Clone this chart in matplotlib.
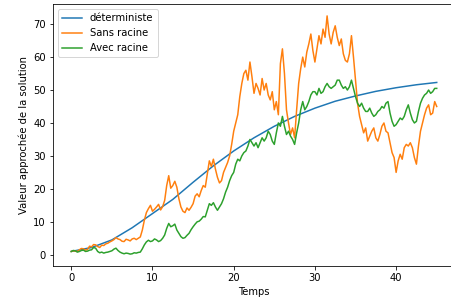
import numpy as np
import matplotlib
matplotlib.use("Agg")
from matplotlib import pyplot as plt

# deterministic curve, read every 2.5 time units
t_det = np.arange(0, 45.01, 2.5)
y_det = [1.0, 2.2, 4.5, 8.2, 12.5, 16.8, 22.0, 27.0, 31.5, 35.5,
         39.0, 42.0, 44.5, 46.6, 48.2, 49.6, 50.7, 51.6, 52.3]

# stochastic paths, read every 0.25 time units (one row = 2.5 units)
t_sto = np.arange(0, 45.01, 0.25)
y_sans = [1.0, 1.2, 1.1, 1.0, 1.5, 1.9, 1.8, 1.4, 1.6, 2.6,
          2.4, 3.1, 3.0, 2.5, 2.2, 2.9, 2.8, 3.3, 3.5, 3.9,
          4.2, 4.6, 5.2, 4.8, 4.6, 4.1, 4.0, 4.7, 4.5, 4.2,
          4.8, 5.0, 4.6, 5.0, 5.4, 7.5, 10.5, 12.8, 14.0, 15.0,
          13.2, 13.8, 14.5, 15.3, 13.6, 14.6, 16.5, 21.0, 24.0, 20.2,
          21.0, 22.3, 20.5, 17.0, 14.5, 13.2, 12.8, 14.2, 13.5, 14.4,
          15.5, 17.8, 18.5, 17.6, 19.5, 21.0, 20.5, 24.5, 28.5, 26.8,
          29.0, 26.0, 23.5, 21.8, 22.5, 25.0, 26.5, 28.0, 30.0, 33.5,
          37.5, 40.0, 42.5, 48.0, 52.0, 55.0, 56.0, 53.0, 58.5, 54.0,
          49.0, 52.0, 50.5, 48.5, 53.5, 50.0, 52.0, 48.5, 47.0, 49.5,
          44.0, 46.5, 42.5, 58.0, 62.5, 55.0, 44.0, 40.0, 36.5, 38.5,
          35.5, 44.0, 52.0, 56.5, 60.0, 57.0, 61.5, 64.0, 67.0, 62.0,
          58.5, 62.5, 66.5, 64.0, 68.5, 66.0, 72.5, 67.0, 64.0, 67.5,
          69.5, 66.0, 63.5, 65.5, 61.0, 59.0, 58.5, 61.0, 66.5, 60.0,
          53.0, 46.0, 42.0, 39.5, 37.0, 38.5, 34.5, 36.0, 37.5, 38.5,
          35.5, 34.5, 36.5, 39.0, 40.0, 37.5, 37.0, 34.0, 31.0, 29.5,
          25.0, 28.5, 30.5, 29.0, 32.5, 33.5, 33.0, 34.0, 32.5, 29.5,
          27.5, 33.0, 37.5, 40.0, 42.5, 44.5, 45.5, 42.5, 43.0, 46.5,
          45.0]
y_avec = [1.0, 1.3, 1.2, 0.8, 1.0, 1.3, 1.4, 1.0, 1.1, 1.4,
          1.5, 2.2, 2.0, 1.0, 0.6, 0.8, 0.5, 0.7, 0.8, 1.0,
          1.2, 1.7, 2.0, 1.3, 0.8, 0.5, 0.3, 0.5, 0.4, 0.2,
          0.3, 0.6, 0.5, 0.7, 0.8, 1.8, 3.0, 3.9, 4.4, 4.0,
          4.2, 4.8, 4.5, 4.0, 4.3, 5.0, 6.0, 8.0, 9.5, 8.5,
          8.8, 9.3, 7.5, 6.5, 5.5, 5.0, 5.2, 5.9, 6.5, 7.6,
          8.5, 9.3, 10.0, 10.2, 10.8, 11.6, 11.5, 13.5, 15.5, 15.0,
          15.8, 14.5, 13.5, 14.5, 15.5, 17.0, 19.0, 20.5, 22.5, 24.0,
          25.0, 27.5, 29.0, 28.5, 30.0, 31.0, 31.5, 33.0, 35.0, 34.0,
          33.0, 34.0, 32.5, 34.0, 35.5, 34.5, 35.5, 37.5, 36.5, 34.5,
          33.5, 37.0, 40.0, 39.0, 42.0, 39.0, 36.5, 37.5, 36.0, 35.0,
          33.5, 37.0, 40.0, 44.0, 46.5, 44.0, 45.0, 46.5, 48.5, 49.5,
          49.5, 48.5, 50.5, 49.0, 49.5, 51.0, 52.0, 51.0, 50.5, 51.0,
          51.5, 53.0, 53.0, 51.5, 50.5, 51.0, 50.0, 51.0, 53.0, 50.5,
          48.0, 46.0, 45.0, 46.0, 44.5, 43.5, 43.5, 44.5, 43.0, 42.0,
          42.5, 43.5, 44.0, 45.0, 44.5, 46.0, 46.5, 43.0, 40.5, 39.0,
          39.5, 40.5, 41.5, 41.0, 42.0, 44.0, 45.5, 43.0, 41.0, 40.0,
          40.5, 43.5, 46.0, 47.5, 48.5, 49.0, 50.0, 49.0, 49.5, 50.5,
          50.5]

fig = plt.figure(figsize=(451 / 72, 308 / 72), dpi=72)
ax = fig.add_axes([53 / 451, 42 / 308, 402 / 451, 262 / 308])

ax.plot(t_det, y_det, label="déterministe")
ax.plot(t_sto, y_sans, label="Sans racine")
ax.plot(t_sto, y_avec, label="Avec racine")

ax.set_xlabel("Temps")
ax.set_ylabel("Valeur approchée de la solution")
ax.legend(loc="upper left")

fig.savefig("out.png", dpi=72)
